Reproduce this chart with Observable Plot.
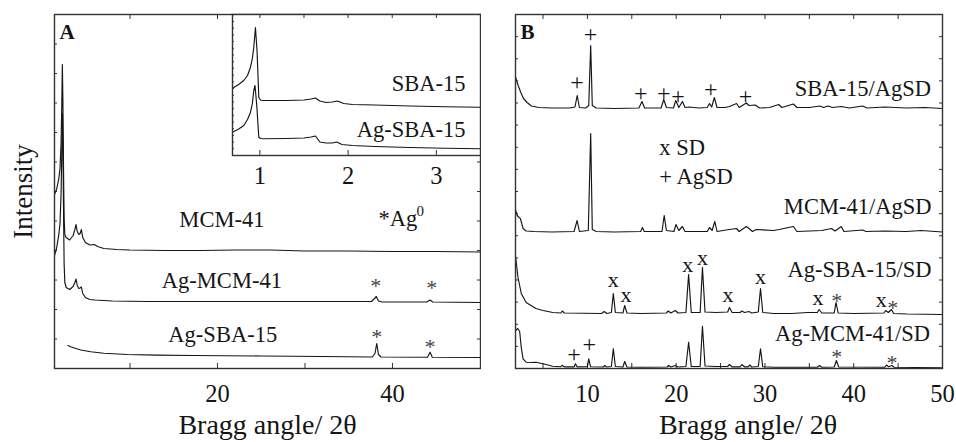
<!DOCTYPE html>
<html><head><meta charset="utf-8">
<script src="https://cdn.jsdelivr.net/npm/d3@7"></script>
<script src="https://cdn.jsdelivr.net/npm/@observablehq/plot@0.6"></script>
<style>
body{margin:0;background:#fff}
#fig{position:relative;width:956px;height:442px;overflow:hidden;background:#fff}
#fig svg{position:absolute;top:0}
</style></head><body><div id="fig"></div>
<script>
// ---------- Panel A (2θ, intensity a.u.) ----------
const mcm41 = [[1.37,174],[1.6,179],[1.85,189],[2.0,200],[2.12,225],[2.2,262],[2.27,304],[2.33,268],[2.4,200],[2.47,150],[2.55,134],[2.7,131],[3.1,128.5],[3.5,133],[3.7,139],[3.83,144],[3.97,137],[4.15,134],[4.3,135],[4.44,139],[4.6,131],[4.9,126],[5.4,123.5],[5.9,124],[6.3,122],[7,120],[8.5,119],[10,118.5],[14,118],[18,118],[22,118.5],[26,118.5],[30,117.5],[35,117.5],[40,117],[45,117],[50.06,116.5]];
const agMcm41 = [[1.37,113],[1.6,120],[1.85,133],[2.0,145],[2.12,175],[2.2,215],[2.27,255],[2.33,225],[2.4,160],[2.47,105],[2.55,86],[2.7,81],[3.1,79],[3.5,82],[3.7,86],[3.83,89.5],[3.97,83],[4.15,80],[4.3,80.5],[4.44,81.5],[4.6,75],[4.9,71],[5.4,69],[6,68.5],[8,67.5],[12,67],[20,67],[30,67],[37.6,67],[37.95,70],[38.15,72],[38.4,67.5],[38.8,66.5],[43.9,66.5],[44.3,68.5],[44.6,66.5],[50.06,66]];
const agSba15 = [[2.9,23],[3.3,21.5],[3.8,20],[4.4,18.5],[5.5,16.8],[7,15.3],[9.7,14],[13,13.4],[17.3,13],[25,12.5],[32,12],[37.7,11.5],[38.0,15],[38.2,25],[38.4,14],[38.7,11.5],[44.0,11.3],[44.3,16.3],[44.55,11.3],[50.06,11]];
const seriesA = ["MCM-41", "Ag-MCM-41", "Ag-SBA-15"];
const seriesAPos = [[20.5,142],[20.5,81],[20.6,27]];
const starsA = [[38.1,88],[44.5,86],[38.2,37],[44.3,26.5]];
const xTicksA = [20, 40];
const xMinorA = [10, 20, 30, 40];

// ---------- Inset (2θ, intensity a.u.) ----------
const sba15In = [[0.69,67.3],[0.76,71],[0.818,75],[0.86,80],[0.894,88.3],[0.915,97],[0.931,108],[0.95,128],[0.968,105],[0.988,58],[1.007,55.5],[1.04,55],[1.3,55],[1.5,55.5],[1.58,56.5],[1.63,57.5],[1.68,54.5],[1.75,53],[1.82,53.5],[1.88,54.5],[1.95,52],[2.05,51],[2.3,50.5],[2.7,49.5],[3.1,48.8],[3.5,48.3]];
const agSba15In = [[0.69,23.3],[0.76,26.5],[0.818,30],[0.86,36],[0.894,43.3],[0.915,52],[0.931,65],[0.945,70],[0.965,50],[0.988,18.3],[1.007,17],[1.04,16.8],[1.3,17],[1.5,17.5],[1.58,18.5],[1.63,19.5],[1.68,13.5],[1.75,12.5],[1.82,12.5],[1.87,13.5],[1.93,11],[2.05,10],[2.3,9],[2.7,8],[3.1,7.3],[3.5,6.7]];
const seriesIn = ["SBA-15", "Ag-SBA-15"];
const seriesInPos = [[3.33,65],[3.33,18.3]];
const xTicksIn = [1, 2, 3];
const xMinorIn = [1.5, 2.5];

// ---------- Panel B (2θ, intensity a.u.) ----------
const sba15AgSD = [[1.92,291],[2.2,283],[2.5,276],[2.8,270],[3.2,266],[3.7,262.5],[4.5,261],[6,260.5],[8.0,260.5],[8.6,261.5],[8.85,273],[9.1,261],[9.8,260.5],[10.15,263],[10.37,323],[10.55,263],[11,260.5],[13,260],[15.8,260.5],[16.15,267],[16.45,260.5],[18.3,260.5],[18.6,269],[18.9,261],[19.7,260.5],[19.95,268],[20.3,261],[20.7,267],[21.0,261],[21.5,261.5],[22.5,260.5],[23.5,261],[23.75,265],[24.0,261.5],[24.3,271],[24.6,261],[25.5,261],[26.0,262],[26.8,265],[27.1,261],[27.9,265.5],[28.2,263],[28.9,263.5],[29.4,260.5],[30.5,261],[31.55,264],[31.9,261],[33.2,264.5],[33.6,261],[35,261],[36.2,262.5],[36.6,261],[37.1,262.5],[37.6,261],[38.6,262],[39.5,260.5],[41.0,262.5],[41.5,260.5],[43.5,261.5],[45.9,260.5],[48,261],[50,260]];
const mcm41AgSD = [[1.92,158],[2.1,153],[2.3,151],[2.45,150],[2.6,145],[2.75,140],[3.1,137.5],[4,137],[6,136.5],[8.5,137],[8.84,148],[9.1,137],[10.1,138],[10.37,235],[10.55,139],[11,137],[13,136.5],[16.0,137],[16.2,141],[16.4,137],[18.4,137],[18.65,153],[18.9,138],[19.75,137],[19.98,144],[20.3,138],[20.7,142],[21,137],[23.5,137],[23.75,141],[24.05,138],[24.35,147],[24.6,137],[25.6,138.5],[26.8,140],[27.1,137],[27.9,142],[28.2,140],[28.6,137],[29.0,139],[31,138],[31.6,139],[33.2,142],[33.6,137],[35,137.5],[36.4,138],[37.5,140],[37.9,137.5],[38.6,142],[38.9,137],[41.0,138.5],[41.4,137],[43.5,137.5],[45.9,137],[47.6,138],[50,136.5]];
const agSba15SD = [[1.92,111],[2.18,91],[2.55,75],[3.1,66],[4.2,60],[5,58],[6.1,56],[7.0,55.5],[7.18,57.5],[7.4,55.5],[11.6,55],[11.9,57],[12.2,55],[12.7,56],[12.92,75],[13.15,56],[14.0,55.5],[14.2,63],[14.45,55.5],[16,55],[18.9,55.5],[19.1,57.5],[19.4,55.5],[19.9,58],[20.2,55.5],[21.1,56],[21.4,94],[21.7,56],[22.7,56],[22.96,101],[23.25,56.5],[24.5,56],[25.8,56.5],[26.0,61],[26.3,56],[27.2,56],[27.4,57.5],[27.7,56],[28.2,57],[28.5,55.5],[29.25,56.5],[29.5,80],[29.75,56],[31,55],[33,55],[34.8,56],[35.9,56],[36.1,59],[36.4,55.5],[37.8,55.5],[38.0,66],[38.25,55.5],[40,55],[43.4,55.5],[43.6,58],[43.9,56],[44.25,59],[44.5,55],[46,54.5],[50,54]];
const agMcm41SD = [[1.92,38],[2.15,40],[2.37,37],[2.55,21],[2.75,9.7],[3.1,6.3],[3.7,6],[4.2,6.3],[5,4.7],[6.1,2.3],[7.0,1.8],[7.15,3.2],[7.4,1.6],[8.5,1.6],[8.65,4.7],[8.85,1.6],[10.0,1.8],[10.15,9.7],[10.35,1.8],[11.8,1.5],[11.95,3],[12.15,1.5],[12.7,2],[12.92,19.7],[13.15,2],[14.0,1.5],[14.2,7],[14.45,1.5],[16,1.3],[19.0,1.5],[19.15,3],[19.4,1.5],[19.9,3],[20.2,1.5],[21.1,2],[21.4,26.3],[21.7,2],[22.7,2],[22.96,42.3],[23.25,2.5],[24.5,2],[25.8,2],[26.0,4],[26.3,1.7],[27.2,1.7],[27.4,4],[27.7,1.7],[28.1,1.7],[28.3,3.5],[28.5,1.5],[29.25,2],[29.5,19.7],[29.75,1.8],[31,1.3],[34,1.3],[35.9,1.3],[36.15,3],[36.4,1.3],[37.8,1.5],[38.05,8],[38.3,1.5],[43.5,1.3],[43.7,3.5],[43.9,1.8],[44.3,3],[44.55,1.3],[47,1],[50,0.7]];
const seriesB = ["SBA-15/AgSD", "MCM-41/AgSD", "Ag-SBA-15/SD", "Ag-MCM-41/SD"];
const seriesBPos = [[48.7,273],[48.75,154.7],[48.75,92],[48.6,27.8]];
const legendB = ["x SD", "+ AgSD"];
const legendBPos = [[18.1,214],[18.1,184.7]];
const plusB = [[8.84,284.7],[10.34,333],[16.0,273.7],[18.6,273.7],[20.2,271.3],[23.9,278],[27.8,271.3],[8.5,13],[10.2,23]];
const crossB = [[12.9,88],[14.35,73],[21.3,103],[22.96,110],[25.85,73],[29.5,91],[35.97,70],[43.1,68]];
const starsB = [[38.1,73],[44.4,66],[38.1,17],[44.3,10.7]];
const xTicksB = [10, 20, 30, 40, 50];
const xMinorB = [5, 10, 15, 20, 25, 30, 35, 40, 45];

const xTitle = "Bragg angle/ 2θ";
const yTitle = "Intensity";

// ---------- styling ----------
const FONT = "'Liberation Serif','Times New Roman',serif";
const INK = "#151515";
const FRAME = "#333";
const LW = 1.15;
const fig = document.getElementById("fig");
function place(svg, left) { svg.style.left = left + "px"; fig.appendChild(svg); }
const toObj = arr => arr.map(([x, y]) => ({x, y}));
const lbl = (names, pos) => names.map((t, i) => ({t, x: pos[i][0], y: pos[i][1]}));

function frameTicks(W, H, xMinor, yTicks, yLen, xLen) {
  return [
    Plot.tickX(xMinor, {x: d => d, insetTop: H - xLen, stroke: FRAME, strokeWidth: 1}),
    Plot.tickX(xMinor, {x: d => d, insetBottom: H - xLen, stroke: FRAME, strokeWidth: 1}),
    Plot.tickY(yTicks, {y: d => d, insetRight: W - yLen, stroke: FRAME, strokeWidth: 1}),
    Plot.tickY(yTicks, {y: d => d, insetLeft: W - yLen, stroke: FRAME, strokeWidth: 1})
  ];
}

// ---------- Panel A ----------
{
  const W = 426, H = 354;
  const yTicks = d3.range(0, 355, 29.5);
  const svg = Plot.plot({
    width: 481, height: 442, marginLeft: 54, marginRight: 1, marginTop: 14, marginBottom: 74,
    style: {background: "transparent", fontFamily: FONT},
    x: {domain: [1.37, 50.06]},
    y: {domain: [0, 354], axis: null},
    marks: [
      ...frameTicks(W, H, xMinorA, yTicks, 3, 5),
      Plot.axisX(xTicksA, {anchor: "bottom", tickSize: 0, tickPadding: 16, fontSize: 24.5, fill: INK, label: null, fontFamily: FONT}),
      Plot.line(toObj(mcm41), {x: "x", y: "y", stroke: INK, strokeWidth: LW}),
      Plot.line(toObj(agMcm41), {x: "x", y: "y", stroke: INK, strokeWidth: LW}),
      Plot.line(toObj(agSba15), {x: "x", y: "y", stroke: INK, strokeWidth: LW}),
      Plot.text(lbl(seriesA, seriesAPos), {x: "x", y: "y", text: "t", textAnchor: "middle", lineAnchor: "bottom", fontSize: 22.5, fill: INK, fontFamily: FONT}),
      Plot.text(toObj(starsA), {x: "x", y: "y", text: () => "*", fontSize: 22, dy: 5, fill: "#444", fontFamily: FONT}),
      Plot.text(["*Ag"], {x: () => 38.4, y: () => 143, text: d => d, textAnchor: "start", lineAnchor: "bottom", fontSize: 22.5, fill: INK, fontFamily: FONT}),
      Plot.text(["0"], {x: () => 42.75, y: () => 153, text: d => d, textAnchor: "start", lineAnchor: "bottom", fontSize: 15, fill: INK, fontFamily: FONT}),
      Plot.text(["A"], {frameAnchor: "top-left", text: d => d, textAnchor: "start", lineAnchor: "top", dx: 5, dy: 10, fontSize: 21, fontWeight: "bold", fill: INK, fontFamily: FONT}),
      Plot.text([xTitle], {frameAnchor: "bottom", text: d => d, textAnchor: "middle", lineAnchor: "bottom", dy: 65, fontSize: 28, fill: INK, fontFamily: FONT}),
      Plot.text([yTitle], {frameAnchor: "left", text: d => d, textAnchor: "middle", rotate: -90, lineAnchor: "bottom", dx: -23, fontSize: 27, fill: INK, fontFamily: FONT}),
      Plot.frame({stroke: FRAME, strokeWidth: 1.4})
    ]
  });
  place(svg, 0);
}

// ---------- Inset ----------
{
  const W = 248, H = 141;
  const yTicks = d3.range(0, 142, 6.7);
  const svg = Plot.plot({
    width: 281, height: 200, marginLeft: 32, marginRight: 1, marginTop: 14, marginBottom: 45,
    style: {background: "transparent", fontFamily: FONT},
    x: {domain: [0.69, 3.5]},
    y: {domain: [0, 141], axis: null},
    marks: [
      Plot.frame({fill: "white", stroke: "none"}),
      Plot.tickX(xTicksIn, {x: d => d, insetTop: H - 5, stroke: FRAME}),
      Plot.tickX(xTicksIn.concat(xMinorIn), {x: d => d, insetBottom: H - 4, stroke: FRAME}),
      Plot.tickY(yTicks, {y: d => d, insetRight: W - 2, stroke: FRAME}),
      Plot.axisX(xTicksIn, {anchor: "bottom", tickSize: 0, tickPadding: 11, fontSize: 24.5, fill: INK, label: null, fontFamily: FONT}),
      Plot.line(toObj(sba15In), {x: "x", y: "y", stroke: INK, strokeWidth: LW}),
      Plot.line(toObj(agSba15In), {x: "x", y: "y", stroke: INK, strokeWidth: LW}),
      Plot.text(lbl(seriesIn, seriesInPos), {x: "x", y: "y", text: "t", textAnchor: "end", lineAnchor: "bottom", fontSize: 22.5, fill: INK, fontFamily: FONT}),
      Plot.frame({stroke: FRAME, strokeWidth: 1.4})
    ]
  });
  place(svg, 200);
}

// ---------- Panel B ----------
{
  const W = 427, H = 354;
  const yTicks = d3.range(0, 355, 354 / 16);
  const svg = Plot.plot({
    width: 476, height: 442, marginLeft: 35, marginRight: 14, marginTop: 14, marginBottom: 74,
    style: {background: "transparent", fontFamily: FONT},
    x: {domain: [1.9, 50]},
    y: {domain: [0, 354], axis: null},
    marks: [
      ...frameTicks(W, H, xMinorB, yTicks, 3, 5),
      Plot.axisX(xTicksB, {anchor: "bottom", tickSize: 0, tickPadding: 16, fontSize: 24.5, fill: INK, label: null, fontFamily: FONT}),
      Plot.line(toObj(sba15AgSD), {x: "x", y: "y", stroke: INK, strokeWidth: LW}),
      Plot.line(toObj(mcm41AgSD), {x: "x", y: "y", stroke: INK, strokeWidth: LW}),
      Plot.line(toObj(agSba15SD), {x: "x", y: "y", stroke: INK, strokeWidth: LW}),
      Plot.line(toObj(agMcm41SD), {x: "x", y: "y", stroke: INK, strokeWidth: LW}),
      Plot.text(lbl(seriesB, seriesBPos), {x: "x", y: "y", text: "t", textAnchor: "end", lineAnchor: "bottom", fontSize: 22.5, fill: INK, fontFamily: FONT}),
      Plot.text(lbl(legendB, legendBPos), {x: "x", y: "y", text: "t", textAnchor: "start", lineAnchor: "bottom", fontSize: 22.5, fill: INK, fontFamily: FONT}),
      Plot.text(toObj(plusB), {x: "x", y: "y", text: () => "+", fontSize: 24, dy: -1, fill: INK, fontFamily: FONT}),
      Plot.text(toObj(crossB), {x: "x", y: "y", text: () => "x", fontSize: 22, dy: -1, fill: INK, fontFamily: FONT}),
      Plot.text(toObj(starsB), {x: "x", y: "y", text: () => "*", fontSize: 22, dy: 5, fill: "#444", fontFamily: FONT}),
      Plot.text(["B"], {frameAnchor: "top-left", text: d => d, textAnchor: "start", lineAnchor: "top", dx: 5, dy: 10, fontSize: 21, fontWeight: "bold", fill: INK, fontFamily: FONT}),
      Plot.text([xTitle], {frameAnchor: "bottom", text: d => d, textAnchor: "middle", lineAnchor: "bottom", dx: 19, dy: 65, fontSize: 28, fill: INK, fontFamily: FONT}),
      Plot.frame({stroke: FRAME, strokeWidth: 1.4})
    ]
  });
  place(svg, 480);
}
</script></body></html>
